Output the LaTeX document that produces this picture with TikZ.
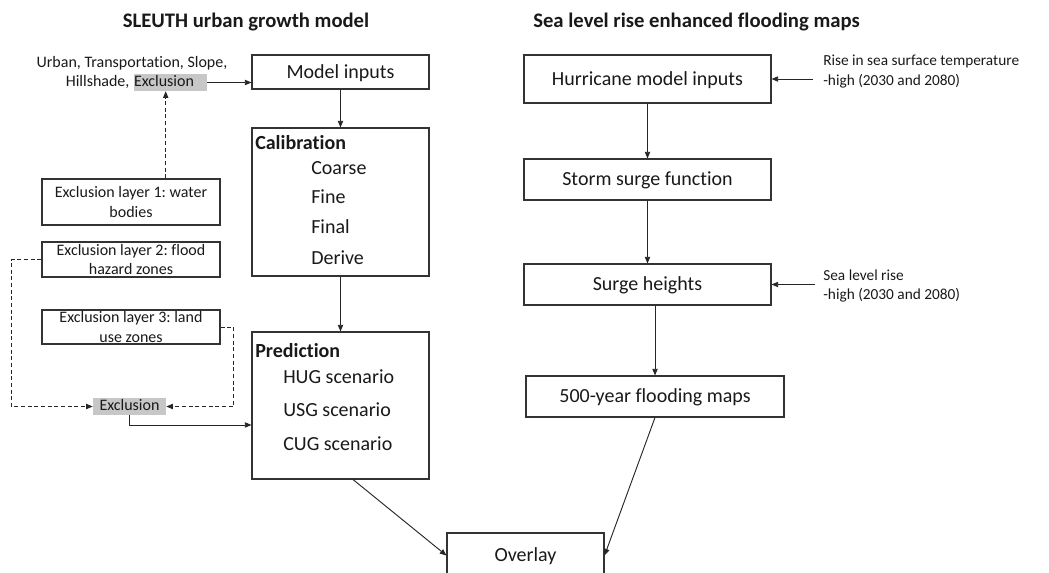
\documentclass[tikz,border=0pt]{standalone}
\usepackage{fontspec}
\setmainfont{Carlito}[Ligatures={NoCommon}]
\usetikzlibrary{arrows.meta}
\frenchspacing

\tikzset{
  box/.style={draw=black!80, line width=0.8pt, text=black!90, inner sep=0pt, text height=9.7pt, text depth=0pt, font=\fontsize{15}{18}\selectfont},
  smallbox/.style={draw=black!80, line width=0.8pt, text=black!90, align=center, inner sep=0pt, font=\fontsize{12}{14.6}\selectfont},
  note/.style={text=black!90, align=left, inner sep=0pt, anchor=west, font=\fontsize{11.5}{14.6}\selectfont},
  plain/.style={text=black!90, inner sep=0pt, font=\fontsize{12}{14.6}\selectfont},
  hilite/.style={plain, fill=black!22, minimum height=12.75pt, text height=9.3pt, text depth=3.45pt},
  entry/.style={text=black!90, anchor=west, inner sep=0pt, text height=9.7pt, text depth=0pt, font=\fontsize{15}{18}\selectfont},
  head/.style={entry, font=\fontsize{15}{18}\selectfont\bfseries},
  title/.style={text=black!90, inner sep=0pt, font=\fontsize{15.5}{18}\selectfont\bfseries},
  arr/.style={-{Triangle[length=5pt,width=4pt]}, line width=0.7pt, draw=black!85},
  dasharr/.style={arr, dash pattern=on 3pt off 2pt}
}

\begin{document}
\begin{tikzpicture}[x=0.75pt,y=0.75pt,yscale=-1,xscale=1]
\useasboundingbox (0,0) rectangle (1049,572);
\clip (0,0) rectangle (1049,572);

% titles
\node[title] (lefttitle) at (246,22) {SLEUTH urban growth model};
\node[title] (righttitle) at (696.5,22) {Sea level rise enhanced flooding maps};

% SLEUTH column
\node[box, minimum width=132.75pt, minimum height=25.5pt] (inputs) at (340.5,72) {Model inputs};
\node[box, minimum width=132.75pt, minimum height=111pt] (calib) at (340.5,202) {};
\node[box, minimum width=132.75pt, minimum height=110.25pt] (predict) at (340.5,405.5) {};

\node[head] (calibhd) at (255,143) {Calibration};
\node[entry] (coarse) at (311,168) {Coarse};
\node[entry] (fine) at (311,197) {Fine};
\node[entry] (final) at (311,227) {Final};
\node[entry] (derive) at (311,258) {Derive};

\node[head] (predicthd) at (255,351) {Prediction};
\node[entry] (hug) at (283,377) {HUG scenario};
\node[entry] (usg) at (283,410) {USG scenario};
\node[entry] (cug) at (283,444) {CUG scenario};

% input layers
\node[hilite, text width=54.75pt, align=left] (xtop) at (170.5,82.5) {Exclusion};
\node[plain, anchor=base east] (hill) at ([xshift=-3pt]xtop.base west) {Hillshade,};
\node[plain, anchor=base] (urban) at (132,67.5) {Urban, Transportation, Slope,};

\node[smallbox, minimum width=133.5pt, minimum height=34.5pt] (layer1) at (131,202) {Exclusion layer 1: water\\bodies};
\node[smallbox, minimum width=133.5pt, minimum height=26.25pt] (layer2) at (131,259.5) {Exclusion layer 2: flood\\hazard zones};
\node[smallbox, minimum width=133.5pt, minimum height=25.5pt] (layer3) at (131,327) {Exclusion layer 3: land\\use zones};
\node[hilite, minimum width=54.75pt] (excl) at (129.5,406.5) {Exclusion};

% flooding column
\node[box, minimum width=185.25pt, minimum height=36pt] (hurricane) at (647.5,79) {Hurricane model inputs};
\node[box, minimum width=185.25pt, minimum height=30.75pt] (storm) at (647.5,179.5) {Storm surge function};
\node[box, minimum width=185.25pt, minimum height=30.75pt] (surge) at (647.5,284.5) {Surge heights};
\node[box, minimum width=193.5pt, minimum height=30.75pt] (flood) at (655,396.5) {500-year flooding maps};
\node[box, minimum width=117.75pt, minimum height=33.75pt] (overlay) at (525.5,555.5) {Overlay};

\node[note] (sst) at (823,71.5) {Rise in sea surface temperature\\-high (2030 and 2080)};
\node[note] (slr) at (823,286) {Sea level rise\\-high (2030 and 2080)};

% connectors
\draw[arr] (xtop.east) -- (xtop.east -| inputs.west);
\draw[dasharr] ([xshift=-3.6pt]layer1.north -| xtop.south) -- ([xshift=-3.6pt]xtop.south);
\draw[dasharr] (layer2.west) -- ++(-30,0) |- (excl.west);
\draw[dasharr] (layer3.east) -- ++(13,0) |- (excl.east);
\draw[arr] (excl.south) |- ([yshift=14.6pt]predict.west);
\draw[arr] (inputs.south) -- (calib.north);
\draw[arr] (calib.south) -- (predict.north);
\draw[arr] ([xshift=9.4pt]predict.south) -- (overlay.west);

\draw[arr] (hurricane.south) -- (storm.north);
\draw[arr] (storm.south) -- (surge.north);
\draw[arr] (surge.south -| flood.north) -- (flood.north);
\draw[arr] (flood.south) -- (overlay.east);
\draw[arr] ([xshift=-7.5pt]sst.west |- hurricane.east) -- (hurricane.east);
\draw[arr] ([xshift=-6pt]slr.west |- surge.east) -- (surge.east);

\end{tikzpicture}
\end{document}
